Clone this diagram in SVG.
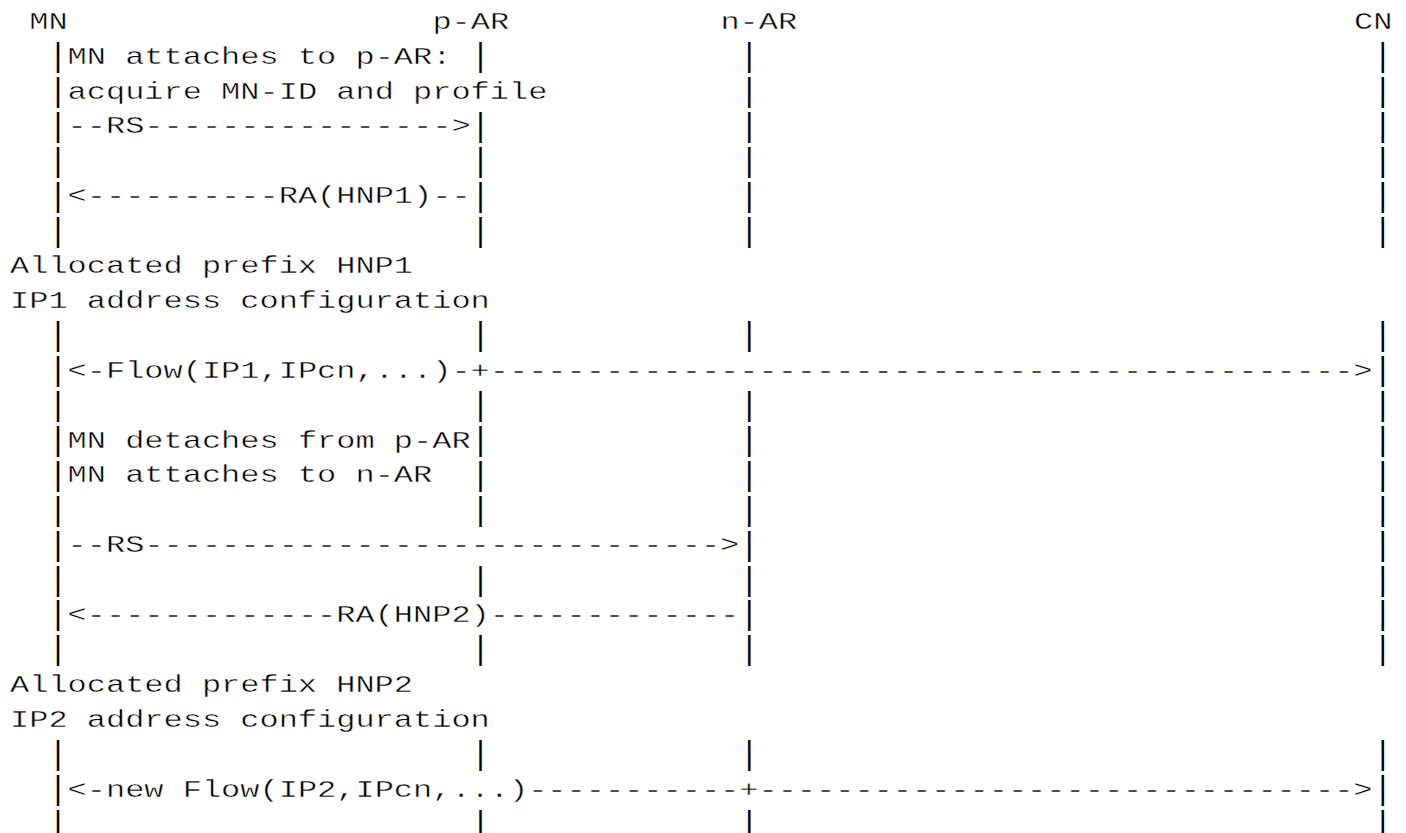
<svg xmlns="http://www.w3.org/2000/svg" width="1406" height="833" viewBox="0 0 1406 833">
<style>
.t{font-family:"Liberation Mono","DejaVu Sans Mono",monospace;font-size:24px;fill:#000;stroke:#fff;stroke-width:0.4px}
.p{font-family:"Liberation Mono","DejaVu Sans Mono",monospace;font-size:30px;fill:#000;text-anchor:middle}
</style>
<rect width="1406" height="833" fill="#fff"/>
<g id="lifelines" class="p" transform="scale(1 1.1)">
<text x="58" y="60.09">|</text><text x="480.4" y="60.09">|</text><text x="749.2" y="60.09">|</text><text x="1382.8" y="60.09">|</text>
<text x="58" y="91.82">|</text><text x="749.2" y="91.82">|</text><text x="1382.8" y="91.82">|</text>
<text x="58" y="123.55">|</text><text x="480.4" y="123.55">|</text><text x="749.2" y="123.55">|</text><text x="1382.8" y="123.55">|</text>
<text x="58" y="155.27">|</text><text x="480.4" y="155.27">|</text><text x="749.2" y="155.27">|</text><text x="1382.8" y="155.27">|</text>
<text x="58" y="187">|</text><text x="480.4" y="187">|</text><text x="749.2" y="187">|</text><text x="1382.8" y="187">|</text>
<text x="58" y="218.73">|</text><text x="480.4" y="218.73">|</text><text x="749.2" y="218.73">|</text><text x="1382.8" y="218.73">|</text>
<text x="58" y="313.91">|</text><text x="480.4" y="313.91">|</text><text x="749.2" y="313.91">|</text><text x="1382.8" y="313.91">|</text>
<text x="58" y="345.64">|</text><text x="1382.8" y="345.64">|</text>
<text x="58" y="377.36">|</text><text x="480.4" y="377.36">|</text><text x="749.2" y="377.36">|</text><text x="1382.8" y="377.36">|</text>
<text x="58" y="409.09">|</text><text x="480.4" y="409.09">|</text><text x="749.2" y="409.09">|</text><text x="1382.8" y="409.09">|</text>
<text x="58" y="440.82">|</text><text x="480.4" y="440.82">|</text><text x="749.2" y="440.82">|</text><text x="1382.8" y="440.82">|</text>
<text x="58" y="472.55">|</text><text x="480.4" y="472.55">|</text><text x="749.2" y="472.55">|</text><text x="1382.8" y="472.55">|</text>
<text x="58" y="504.27">|</text><text x="749.2" y="504.27">|</text><text x="1382.8" y="504.27">|</text>
<text x="58" y="536">|</text><text x="480.4" y="536">|</text><text x="749.2" y="536">|</text><text x="1382.8" y="536">|</text>
<text x="58" y="567.73">|</text><text x="749.2" y="567.73">|</text><text x="1382.8" y="567.73">|</text>
<text x="58" y="599.45">|</text><text x="480.4" y="599.45">|</text><text x="749.2" y="599.45">|</text><text x="1382.8" y="599.45">|</text>
<text x="58" y="694.64">|</text><text x="480.4" y="694.64">|</text><text x="749.2" y="694.64">|</text><text x="1382.8" y="694.64">|</text>
<text x="58" y="726.36">|</text><text x="1382.8" y="726.36">|</text>
<text x="58" y="758.09">|</text><text x="480.4" y="758.09">|</text><text x="749.2" y="758.09">|</text><text x="1382.8" y="758.09">|</text>
</g>
<g transform="translate(10 0) scale(1.33333 1)" class="t">
<g id="node-MN"><text x="14.4" y="28.8">MN</text></g>
<g id="node-pAR"><text x="316.8" y="28.8">p-AR</text></g>
<g id="node-nAR"><text x="532.8" y="28.8">n-AR</text></g>
<g id="node-CN"><text x="1008" y="28.8">CN</text></g>
<g id="notes">
<text x="43.2" y="63.7">MN attaches to p-AR:</text>
<text x="43.2" y="98.6">acquire MN-ID and profile</text>
<text x="0" y="273.1">Allocated prefix HNP1</text>
<text x="0" y="308">IP1 address configuration</text>
<text x="43.2" y="447.6">MN detaches from p-AR</text>
<text x="43.2" y="482.5">MN attaches to n-AR</text>
<text x="0" y="691.9">Allocated prefix HNP2</text>
<text x="0" y="726.8">IP2 address configuration</text>
</g>
<g id="connectors">
<text x="43.2" y="133.5">--RS----------------&gt;</text>
<text x="43.2" y="203.3">&lt;----------RA(HNP1)--</text>
<text x="43.2" y="377.8">&lt;-Flow(IP1,IPcn,...)-+---------------------------------------------&gt;</text>
<text x="43.2" y="552.3">--RS------------------------------&gt;</text>
<text x="43.2" y="622.1">&lt;-------------RA(HNP2)-------------</text>
<text x="43.2" y="796.6">&lt;-new Flow(IP2,IPcn,...)-----------+-------------------------------&gt;</text>
</g>
</g>
</svg>
